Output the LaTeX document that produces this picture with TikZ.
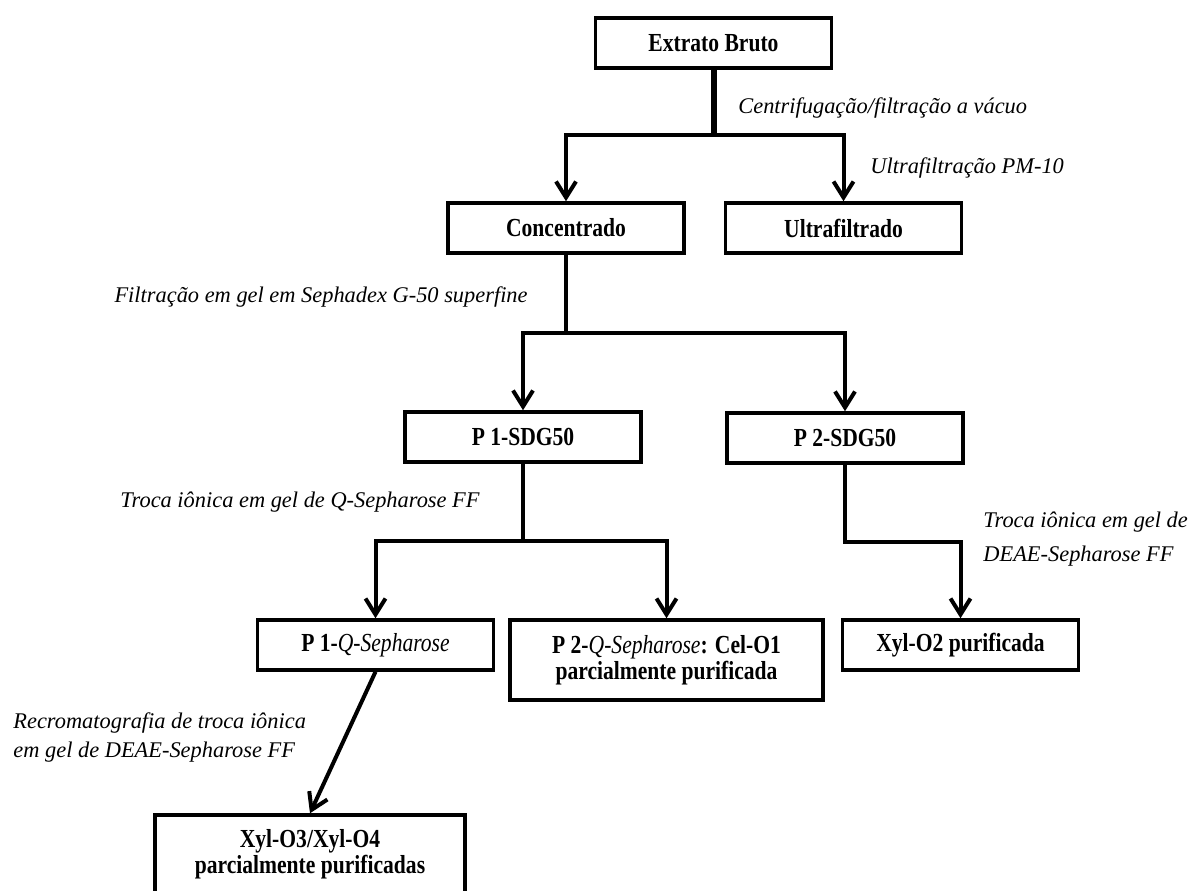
\documentclass[tikz,border=0pt]{standalone}
\usepackage{fontspec}
\setmainfont{Liberation Serif}
\newfontfamily\boxfont{Liberation Serif}[FakeStretch=0.83]
\usetikzlibrary{arrows.meta}

\begin{document}
\begin{tikzpicture}[x=.5pt,y=-.5pt,
  stage/.style={draw,line width=1.75pt,minimum width=118pt,minimum height=25pt,
    inner sep=2pt,align=center,
    font=\boxfont\bfseries\fontsize{13}{13}\selectfont},
  method/.style={inner sep=0pt,align=left,
    font=\itshape\fontsize{11.2}{14.5}\selectfont},
  trunk/.style={line width=2pt},
  flow/.style={line width=2pt,-{Straight Barb[length=8pt,width=10pt]}}]
\useasboundingbox (0,0) rectangle (1188,890);
\node[stage] (extrato) at (713.5,43) {Extrato Bruto};
\node[stage] (conc) at (566,228) {Concentrado};
\node[stage] (ultra) at (843.5,228) {Ultrafiltrado};
\node[stage] (p1sdg) at (523,437) {P 1-SDG50};
\node[stage] (p2sdg) at (845,438) {P 2-SDG50};
\node[stage] (p1q) at (375.5,645) {P 1-\textit{\mdseries Q-Sepharose}};
\node[stage,minimum width=156.5pt,minimum height=40pt] (p2q) at (666.5,660)
  {P 2-\textit{\mdseries Q-Sepharose}: Cel-O1\\parcialmente purificada};
\node[stage] (xylo2) at (960.5,645) {Xyl-O2 purificada};
\node[stage,minimum width=155pt,minimum height=39pt] (xylo34) at (310,854)
  {Xyl-O3/Xyl-O4\\parcialmente purificadas};
\coordinate (j1) at (713.5,135);
\coordinate (j2) at (566,333);
\coordinate (j3) at (523,541);
\coordinate (j4) at (845,542);
\draw[trunk,line width=3pt] (extrato) -- (j1);
\draw[flow] (j1) -| (conc);
\draw[flow] (j1) -| (ultra);
\draw[trunk] (conc) -- (j2);
\draw[flow] (j2) -| (p1sdg);
\draw[flow] (j2) -| (p2sdg);
\draw[trunk] (p1sdg) -- (j3);
\draw[flow] (j3) -| (p1q);
\draw[flow] (j3) -| (p2q);
\draw[flow] (p2sdg) -- (j4) -| (xylo2);
\draw[flow] (p1q.south) -- (xylo34.north);
\node[method,anchor=base west] (centrif) at (738,113) {Centrifugação/filtração a vácuo};
\node[method,anchor=base west] (ultraf) at (870,173) {Ultrafiltração PM-10};
\node[method,anchor=base east] (gelfilt) at (528,302) {Filtração em gel em Sephadex G-50 superfine};
\node[method,anchor=base east] (qseph) at (480,507) {Troca iônica em gel de Q-Sepharose FF};
\node[method,anchor=north west] (deae) at (983,512) {Troca iônica em gel de\\[2.5pt]DEAE-Sepharose FF};
\node[method,anchor=north west] (recrom) at (13,712) {Recromatografia de troca iônica\\em gel de DEAE-Sepharose FF};
\end{tikzpicture}
\end{document}
